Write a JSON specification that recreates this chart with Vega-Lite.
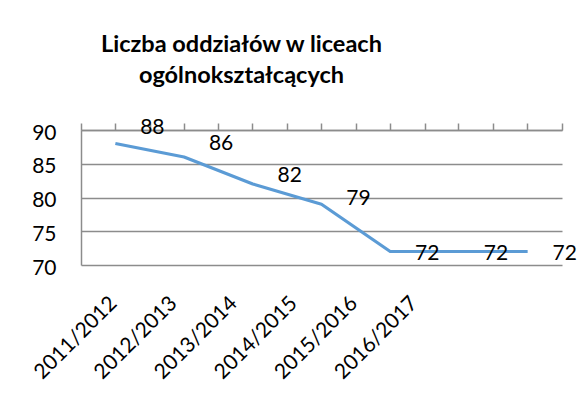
{
  "$schema": "https://vega.github.io/schema/vega-lite/v6.json",
  "autosize": "none",
  "width": 481,
  "height": 135,
  "padding": {"left": 81, "top": 130, "right": 21, "bottom": 135},
  "background": "white",
  "config": {
    "font": "Lato",
    "view": {"stroke": null},
    "axis": {
      "labelFont": "Lato",
      "labelFontSize": 21,
      "labelColor": "black",
      "domainColor": "#8c8c8c",
      "domainWidth": 1.5,
      "tickColor": "#8c8c8c",
      "tickWidth": 1.5,
      "gridColor": "#8c8c8c",
      "gridWidth": 1.5,
      "title": null
    }
  },
  "title": {
    "text": ["Liczba oddziałów  w liceach", "ogólnokształcących"],
    "font": "Lato",
    "fontSize": 23.5,
    "fontWeight": "bold",
    "color": "black",
    "lineHeight": 31,
    "anchor": "middle",
    "dx": -80,
    "offset": 30
  },
  "datasets": {
    "dane": [
      {"rok": "2011/2012", "liczba": 88},
      {"rok": "2012/2013", "liczba": 86},
      {"rok": "2013/2014", "liczba": 82},
      {"rok": "2014/2015", "liczba": 79},
      {"rok": "2015/2016", "liczba": 72},
      {"rok": "2016/2017", "liczba": 72},
      {"rok": "2017/2018", "liczba": 72}
    ]
  },
  "data": {"name": "dane"},
  "layer": [
    {
      "mark": {"type": "line", "color": "#5b9bd5", "strokeWidth": 3.2, "strokeJoin": "round"},
      "encoding": {
        "x": {
          "field": "rok",
          "type": "ordinal",
          "bandPosition": 0.5,
          "scale": {"type": "band", "paddingInner": 0, "paddingOuter": 0},
          "axis": {"orient": "top", "labels": false, "ticks": true, "tickSize": 7, "tickBand": "extent", "domain": true, "grid": false}
        },
        "y": {
          "field": "liczba",
          "type": "quantitative",
          "scale": {"domain": [70, 90], "nice": false, "zero": false},
          "axis": {"orient": "left", "values": [70, 75, 80, 85, 90], "grid": true, "ticks": false, "domain": true, "labelPadding": 25, "labelBaseline": "middle", "labelOffset": 3}
        }
      }
    },
    {
      "mark": {"type": "text", "dx": 37, "fontSize": 21, "font": "Lato", "color": "black", "baseline": "middle", "align": "center"},
      "encoding": {
        "x": {
          "field": "rok",
          "type": "ordinal",
          "bandPosition": 0.5,
          "scale": {"type": "band", "paddingInner": 0, "paddingOuter": 0},
          "axis": {"orient": "top", "labels": false, "ticks": true, "tickSize": 7, "domain": false, "grid": false}
        },
        "y": {
          "field": "liczba",
          "type": "quantitative",
          "scale": {"domain": [70.6, 87.8], "nice": false, "zero": false},
          "axis": null
        },
        "text": {"field": "liczba", "type": "quantitative"}
      }
    },
    {
      "transform": [{"filter": {"not": {"field": "rok", "equal": "2017/2018"}}}],
      "mark": {"type": "point", "opacity": 0},
      "encoding": {
        "x": {
          "field": "rok",
          "type": "ordinal",
          "scale": {"type": "band", "paddingInner": 0, "paddingOuter": 1, "align": 0},
          "axis": {"orient": "bottom", "labelAngle": -45, "labelAlign": "right", "labelBaseline": "top", "ticks": false, "domain": false, "grid": false, "labelPadding": 27, "labelOffset": -5}
        }
      }
    }
  ],
  "resolve": {"scale": {"x": "independent", "y": "independent"}, "axis": {"x": "independent", "y": "independent"}}
}
